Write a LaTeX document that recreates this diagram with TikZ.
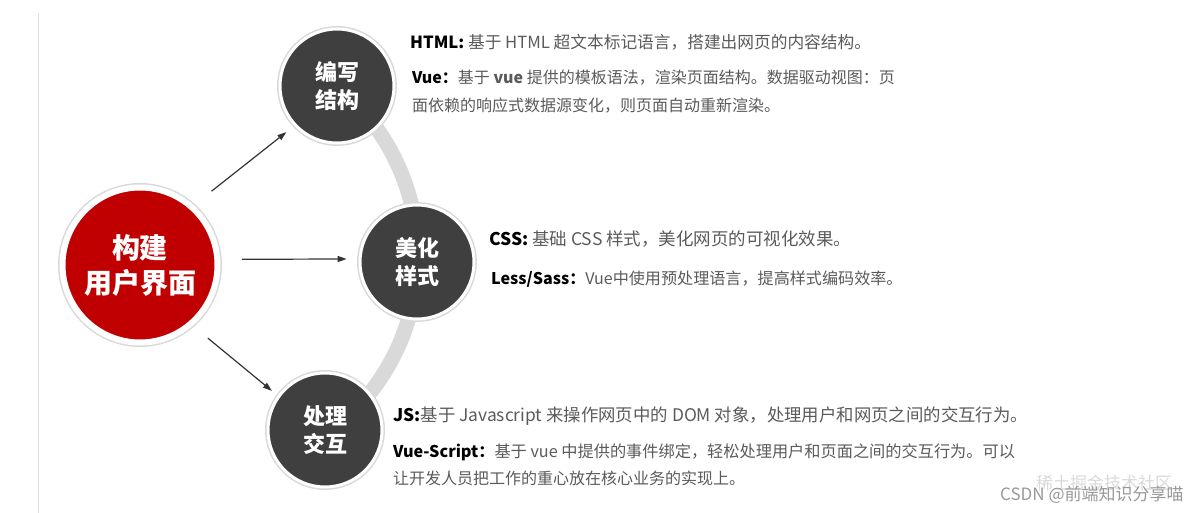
\documentclass[tikz,border=0pt]{standalone}
\usepackage{fontspec}
\setmainfont{Noto Sans CJK SC}
\usetikzlibrary{arrows.meta, calc, positioning}
\definecolor{hubred}{HTML}{C00000}
\definecolor{branchgray}{HTML}{3F3F3F}
\definecolor{trackgray}{HTML}{D9D9D9}
\definecolor{descgray}{HTML}{5A5A5A}

\begin{document}
\begin{tikzpicture}[x=1pt, y=-1pt, >={Triangle[length=9pt, width=6pt]}]

	\tikzstyle{hub}=[circle, fill=hubred, draw=white, line width=6pt, preaction={draw=black!15, line width=9pt}, minimum size=155pt, inner sep=0pt, text=white, align=center, font=\fontsize{28}{35}\selectfont\bfseries]
	\tikzstyle{branch}=[circle, fill=branchgray, draw=white, line width=3pt, preaction={draw=black!15, line width=6pt}, minimum size=114pt, inner sep=0pt, text=white, align=center, font=\fontsize{22}{28}\selectfont\bfseries]
	\tikzstyle{track}=[trackgray, line width=15pt]
	\tikzstyle{link}=[->, draw=black!80, line width=1.2pt]
	\tikzstyle{desc}=[anchor=base west, inner sep=0pt, text=descgray, font=\fontsize{16}{20}\selectfont]
	\tikzstyle{wm}=[anchor=base west, inner sep=0pt, font=\fontsize{17}{20}\selectfont]

	\useasboundingbox (0,0) rectangle (1195,513);
	\draw[black!12, line width=1pt] (38,13) -- (38,513);

	\coordinate (f_0) at (140, 265); % CENTRO
	\coordinate (f_1) at (337, 86); % ESTRUCTURA
	\coordinate (f_2) at (417, 262); % ESTILO
	\coordinate (f_3) at (325, 430); % INTERACCION

	\draw[track] (f_1) arc[start angle=-50.7, end angle=53, radius=220];

	\node[hub] (f_0) at (f_0) {构建\\用户界面}; % CENTRO
	\node[branch] (f_1) at (f_1) {编写\\结构}; % ESTRUCTURA
	\node[branch] (f_2) at (f_2) {美化\\样式}; % ESTILO
	\node[branch] (f_3) at (f_3) {处理\\交互}; % INTERACCION

	\draw[link, shorten <=22.5pt, shorten >=10pt] (f_0.48) -- (f_1.223);
	\draw[link, shorten <=21.5pt, shorten >=12pt] (f_0.4) -- (f_2.177);
	\draw[link, shorten <=19.5pt, shorten >=7.5pt] (f_0.-49) -- (f_3.144);

	\node[desc, font=\fontsize{16.7}{20}\selectfont] (d_1_1) at (410, 49) {{\color{black}\bfseries HTML:} 基于 HTML 超文本标记语言，搭建出网页的内容结构。};
	\node[desc] (d_1_2) at (412, 84) {{\color{black}\bfseries Vue：}基于 {\bfseries vue} 提供的模板语法，渲染页面结构。数据驱动视图：页};
	\node[desc] (d_1_3) at (412, 112) {面依赖的响应式数据源变化，则页面自动重新渲染。};

	\node[desc, font=\fontsize{17.5}{20}\selectfont] (d_2_1) at (489, 246) {{\color{black}\bfseries CSS:} 基础 CSS 样式，美化网页的可视化效果。};
	\node[desc, font=\fontsize{16.1}{20}\selectfont] (d_2_2) at (491, 285) {{\color{black}\bfseries Less/Sass：}Vue中使用预处理语言，提高样式编码效率。};

	\node[desc, font=\fontsize{17.4}{20}\selectfont] (d_3_1) at (393, 421) {{\color{black}\bfseries JS:}基于 Javascript 来操作网页中的 DOM 对象，处理用户和网页之间的交互行为。};
	\node[desc, font=\fontsize{16.2}{20}\selectfont] (d_3_2) at (393, 457) {{\color{black}\bfseries Vue-Script：}基于 vue 中提供的事件绑定，轻松处理用户和页面之间的交互行为。可以};
	\node[desc] (d_3_3) at (393, 484) {让开发人员把工作的重心放在核心业务的实现上。};

	\node[wm, text=black!15] (wm_2) at (1036, 489) {稀土掘金技术社区};
	\node[wm, text=black!40] (wm_1) at (1000, 500) {CSDN @前端知识分享喵};
\end{tikzpicture}
\end{document}
